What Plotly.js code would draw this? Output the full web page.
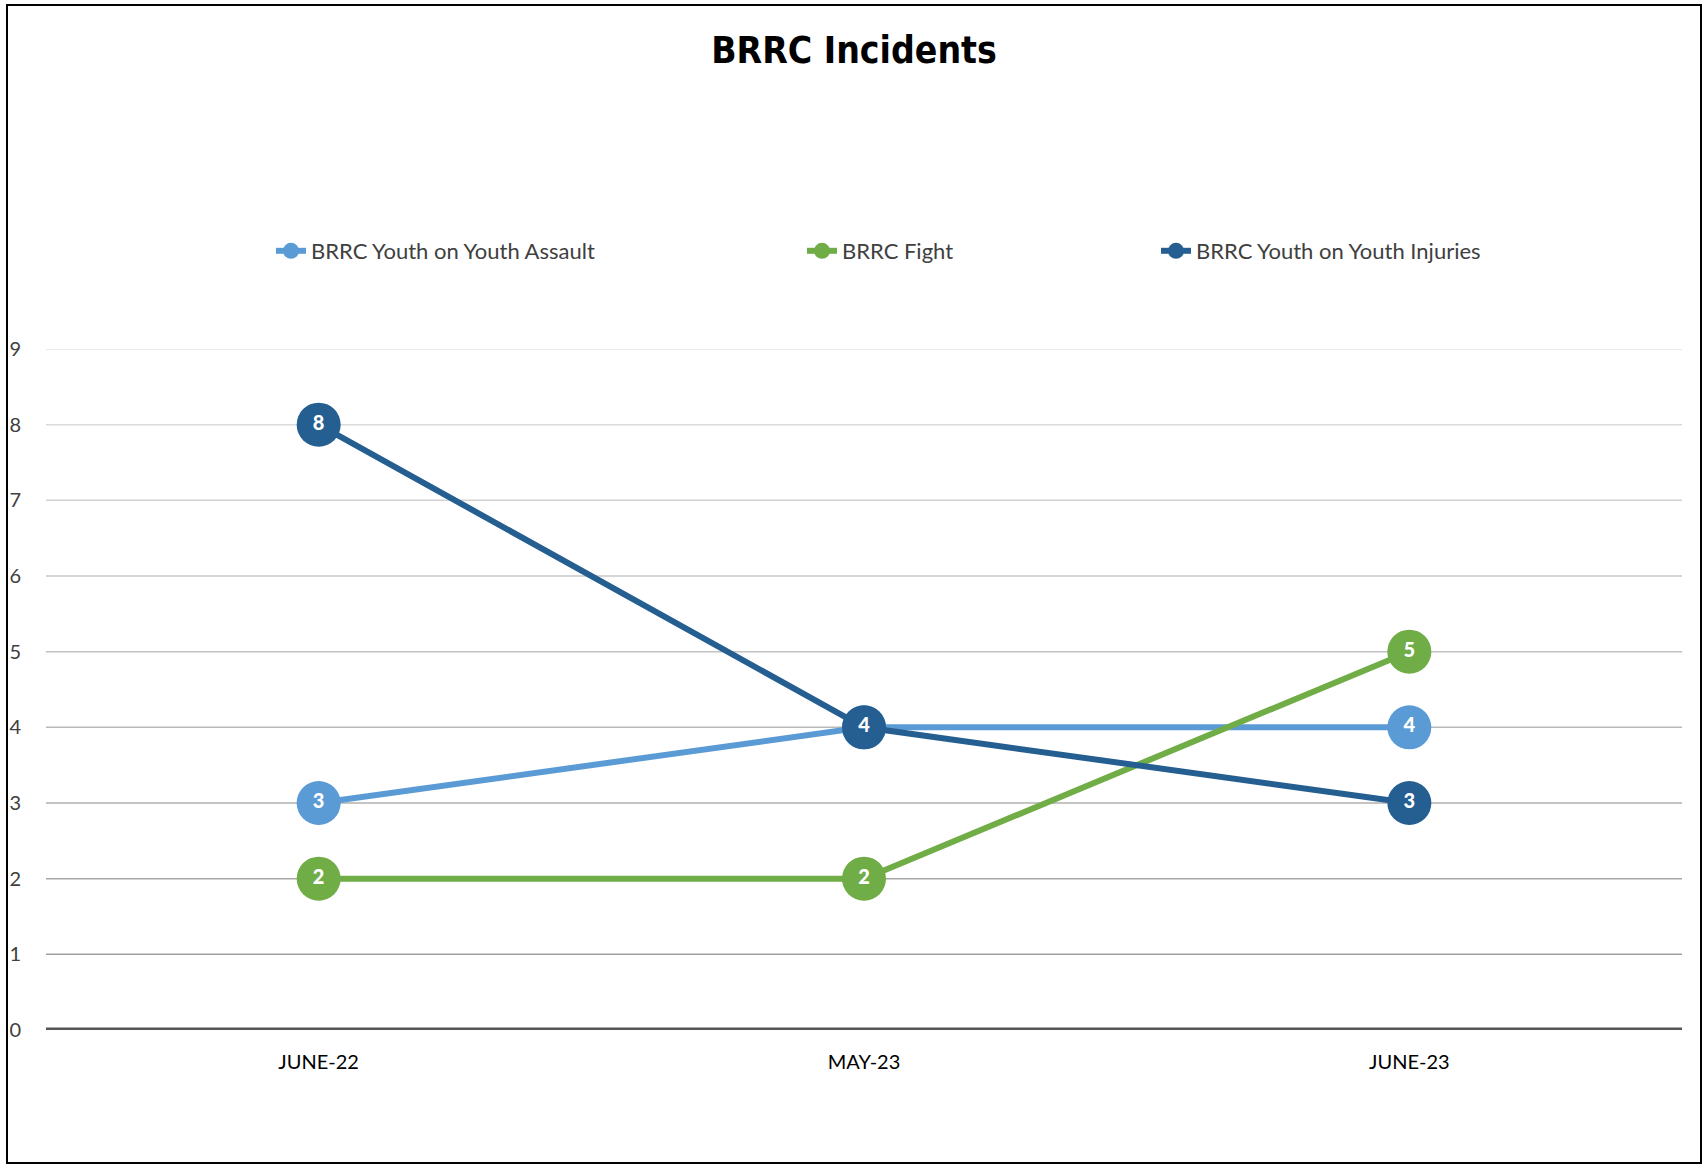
<!DOCTYPE html>
<html>
<head>
<meta charset="utf-8">
<script src="https://cdn.plot.ly/plotly-3.0.1.min.js"></script>
<style>
  html, body { margin: 0; padding: 0; background: #fff; }
  #chart { width: 1704px; height: 1165px; }
</style>
</head>
<body>
<div id="chart"></div>
<script>
const categories = ["JUNE-22", "MAY-23", "JUNE-23"];
const assault = [3, 4, 4];
const fight = [2, 2, 5];
const injuries = [8, 4, 3];
const seriesNames = ["BRRC Youth on Youth Assault", "BRRC Fight", "BRRC Youth on Youth Injuries"];
const seriesColors = ["#5B9BD5", "#70AD47", "#255E91"];
const yTicks = [0, 1, 2, 3, 4, 5, 6, 7, 8, 9];

const seriesData = [assault, fight, injuries];
const legendIds = ["legend", "legend2", "legend3"];

const traces = seriesData.map((vals, i) => ({
  type: "scatter",
  mode: "lines+markers+text",
  x: categories,
  y: vals,
  name: seriesNames[i],
  legend: legendIds[i],
  text: vals.map(String),
  textposition: "middle center",
  textfont: { family: "Lato, 'Open Sans', sans-serif", size: 20, color: "#ffffff", weight: 900 },
  line: { color: seriesColors[i], width: 6 },
  marker: { color: seriesColors[i], size: 44, symbol: "circle", line: { width: 0 } },
  cliponaxis: false,
  hoverinfo: "x+y+name"
}));

// graded gridlines (lighter toward the top)
function gridColor(v) {
  const t = (v - 1) / 8;
  const c = Math.round(160 + t * (226 - 160));
  return `rgb(${c},${c},${c})`;
}
const shapes = yTicks.filter(v => v > 0).map(v => ({
  type: "line", xref: "paper", yref: "y", x0: 0, x1: 1, y0: v, y1: v,
  line: { color: gridColor(v), width: 1.5 }, layer: "below"
}));
// zero axis line
shapes.push({
  type: "line", xref: "paper", yref: "y", x0: 0, x1: 1, y0: 0, y1: 0,
  line: { color: "#555555", width: 5 }, layer: "above"
});
// outer frame
const L = 46, R = 22, T = 349, B = 135, W = 1704, H = 1165;
const pw = W - L - R, ph = H - T - B;
shapes.push({
  type: "rect", xref: "paper", yref: "paper",
  x0: (7 - L) / pw, x1: (1701 - L) / pw,
  y0: ((H - B) - 1163) / ph, y1: ((H - B) - 5) / ph,
  line: { color: "#000000", width: 2 }, fillcolor: "rgba(0,0,0,0)", layer: "above"
});

const legFont = { family: "Lato, 'Open Sans', sans-serif", size: 22, color: "#404040" };
const legendBase = {
  orientation: "h", xanchor: "left", yanchor: "middle", y: (H - B - 251) / ph,
  font: legFont, bgcolor: "rgba(0,0,0,0)", itemwidth: 30, tracegroupgap: 0
};

const layout = {
  width: W, height: H,
  margin: { l: L, r: R, t: T, b: B },
  paper_bgcolor: "#ffffff",
  plot_bgcolor: "#ffffff",
  title: {
    text: "<b>BRRC Incidents</b>",
    font: { family: "'Liberation Sans Narrow', 'DejaVu Sans Condensed', 'Liberation Sans', sans-serif", size: 37, color: "#000000" },
    x: 854 / W, xanchor: "center", xref: "container",
    y: 1 - 50 / H, yanchor: "middle", yref: "container"
  },
  xaxis: {
    type: "category",
    range: [-0.5, 2.5],
    showgrid: false, zeroline: false, showline: false,
    ticks: "", ticklabelstandoff: 18,
    tickfont: { family: "Lato, 'Open Sans', sans-serif", size: 20, color: "#000000" },
    fixedrange: true
  },
  yaxis: {
    range: [0, 9],
    tickvals: yTicks,
    showgrid: false, zeroline: false, showline: false,
    ticks: "", ticklabelstandoff: 24,
    tickfont: { family: "Lato, 'Open Sans', sans-serif", size: 20, color: "#404040" },
    fixedrange: true
  },
  showlegend: true,
  legend: Object.assign({}, legendBase, { x: (271 - L) / pw }),
  legend2: Object.assign({}, legendBase, { x: (802 - L) / pw }),
  legend3: Object.assign({}, legendBase, { x: (1156 - L) / pw }),
  shapes: shapes
};

Plotly.newPlot("chart", traces, layout, { displayModeBar: false, staticPlot: true });
</script>
</body>
</html>
